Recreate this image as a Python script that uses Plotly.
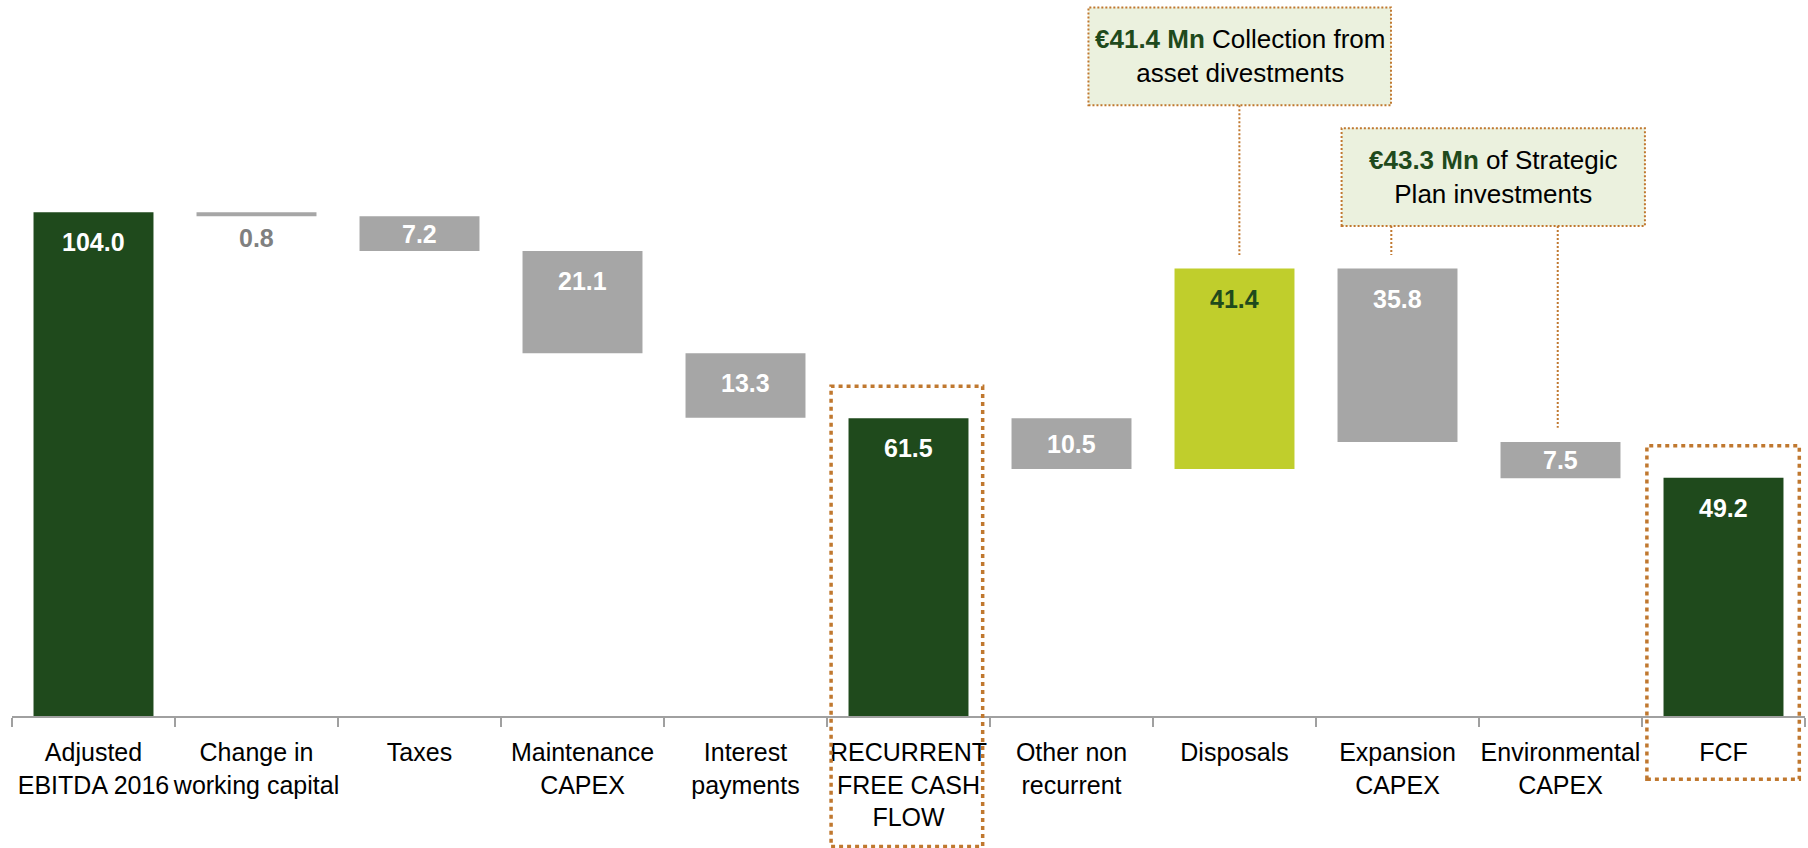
import plotly.graph_objects as go

# ---------------- data ----------------
categories = ["Adjusted<br>EBITDA 2016", "Change in<br>working capital", "Taxes",
              "Maintenance<br>CAPEX", "Interest<br>payments",
              "RECURRENT<br>FREE CASH<br>FLOW", "Other non<br>recurrent", "Disposals",
              "Expansion<br>CAPEX", "Environmental<br>CAPEX", "FCF"]
values = [104.0, -0.8, -7.2, -21.1, -13.3, 61.5, -10.5, 41.4, -35.8, -7.5, 49.2]
measures = ["absolute", "relative", "relative", "relative", "relative", "absolute",
            "relative", "relative", "relative", "relative", "absolute"]
value_labels = ["104.0", "0.8", "7.2", "21.1", "13.3", "61.5", "10.5", "41.4", "35.8", "7.5", "49.2"]
callout_1 = "<b><span style='color:#1F4A1C'>€41.4 Mn</span></b> Collection from<br>asset divestments"
callout_2 = "<b><span style='color:#1F4A1C'>€43.3 Mn</span></b> of Strategic<br>Plan investments"

# ---------------- style ----------------
W, H = 1808, 848
ML, MR, MT, MB = 12, 3, 0, 132
PLOT_H = H - MT - MB
YMAX = 147.84
PXU = PLOT_H / YMAX
FONT = "Liberation Sans, Arial, sans-serif"
TICK_SIZE = 25
VAL_SIZE = 25
BOX_SIZE = 26
GREEN = "#1F4A1C"
GRAY = "#A6A6A6"
LIME = "#C0CE2C"
DOT = "#C0782F"
BOXFILL = "#EBF1DE"
label_colors = ["white", "#808080", "white", "white", "white", "white",
                "white", "#1F4A1C", "white", "white", "white"]

fig = go.Figure(go.Waterfall(
    x=categories, y=values, measure=measures,
    increasing=dict(marker=dict(color=LIME)),
    decreasing=dict(marker=dict(color=GRAY)),
    totals=dict(marker=dict(color=GREEN)),
    connector=dict(visible=False),
    textinfo="none", hoverinfo="x+y",
))

# running totals -> bar extents for labels
run = 0.0
tops, bottoms = [], []
for v, m in zip(values, measures):
    if m == "absolute":
        b, e = 0.0, v
    else:
        b, e = run, run + v
    run = e
    tops.append(max(b, e))
    bottoms.append(min(b, e))

annotations = []
for i, lab in enumerate(value_labels):
    h_px = (tops[i] - bottoms[i]) * PXU
    if h_px < 8:
        y, shift = bottoms[i], -22
    else:
        y, shift = tops[i], -min(30, h_px / 2)
    annotations.append(dict(x=i, y=y, yshift=shift, text=f"<b>{lab}</b>", showarrow=False,
                            xanchor="center", yanchor="middle",
                            font=dict(family=FONT, size=VAL_SIZE, color=label_colors[i])))

annotations.append(dict(x=(6.104 + 7.96) / 2, y=(146.3 + 126.1) / 2, text=callout_1, showarrow=False,
                        xanchor="center", yanchor="middle",
                        font=dict(family=FONT, size=BOX_SIZE, color="black")))
annotations.append(dict(x=(7.657 + 9.518) / 2, y=(121.35 + 101.2) / 2, text=callout_2, showarrow=False,
                        xanchor="center", yanchor="middle",
                        font=dict(family=FONT, size=BOX_SIZE, color="black")))

thin = dict(color=DOT, width=2, dash="2px,2px")
thick = dict(color=DOT, width=3.5, dash="4px,4px")
shapes = [
    # callout boxes
    dict(type="rect", xref="x", yref="y", x0=6.104, x1=7.96, y0=126.1, y1=146.3,
         line=thin, fillcolor=BOXFILL, layer="below"),
    dict(type="rect", xref="x", yref="y", x0=7.657, x1=9.518, y0=101.2, y1=121.35,
         line=thin, fillcolor=BOXFILL, layer="below"),
    # connectors
    dict(type="line", xref="x", yref="y", x0=7.03, x1=7.03, y0=126.1, y1=95.2, line=thin),
    dict(type="line", xref="x", yref="y", x0=7.962, x1=7.962, y0=101.2, y1=95.2, line=thin),
    dict(type="line", xref="x", yref="y", x0=8.983, x1=8.983, y0=101.2, y1=59.5, line=thin),
    # highlight boxes
    dict(type="rect", xref="x", yref="paper", x0=4.525, x1=5.455,
         y0=-(846.5 - (H - MB)) / PLOT_H, y1=68.1 / YMAX, line=thick),
    dict(type="rect", xref="x", yref="paper", x0=9.53, x1=10.465,
         y0=-(779.3 - (H - MB)) / PLOT_H, y1=55.8 / YMAX, line=thick),
]

fig.update_layout(
    width=W, height=H,
    margin=dict(l=ML, r=MR, t=MT, b=MB, autoexpand=False),
    paper_bgcolor="white", plot_bgcolor="white",
    showlegend=False, waterfallgap=0.264,
    annotations=annotations, shapes=shapes,
    font=dict(family=FONT, size=TICK_SIZE, color="black"),
)
fig.update_xaxes(
    showline=True, linecolor="#A0A0A0", linewidth=2,
    ticks="outside", tickson="boundaries", ticklen=9, tickwidth=2, tickcolor="#A0A0A0",
    tickfont=dict(family=FONT, size=TICK_SIZE, color="black"), tickangle=0,
    ticklabelstandoff=13,
    automargin=False, showgrid=False, zeroline=False,
)
fig.update_yaxes(range=[0, YMAX], visible=False, showgrid=False, zeroline=False, automargin=False)

fig.write_html("out.html", config={"displayModeBar": False},
               post_script="document.body.style.margin='0';document.body.style.overflow='hidden';")
